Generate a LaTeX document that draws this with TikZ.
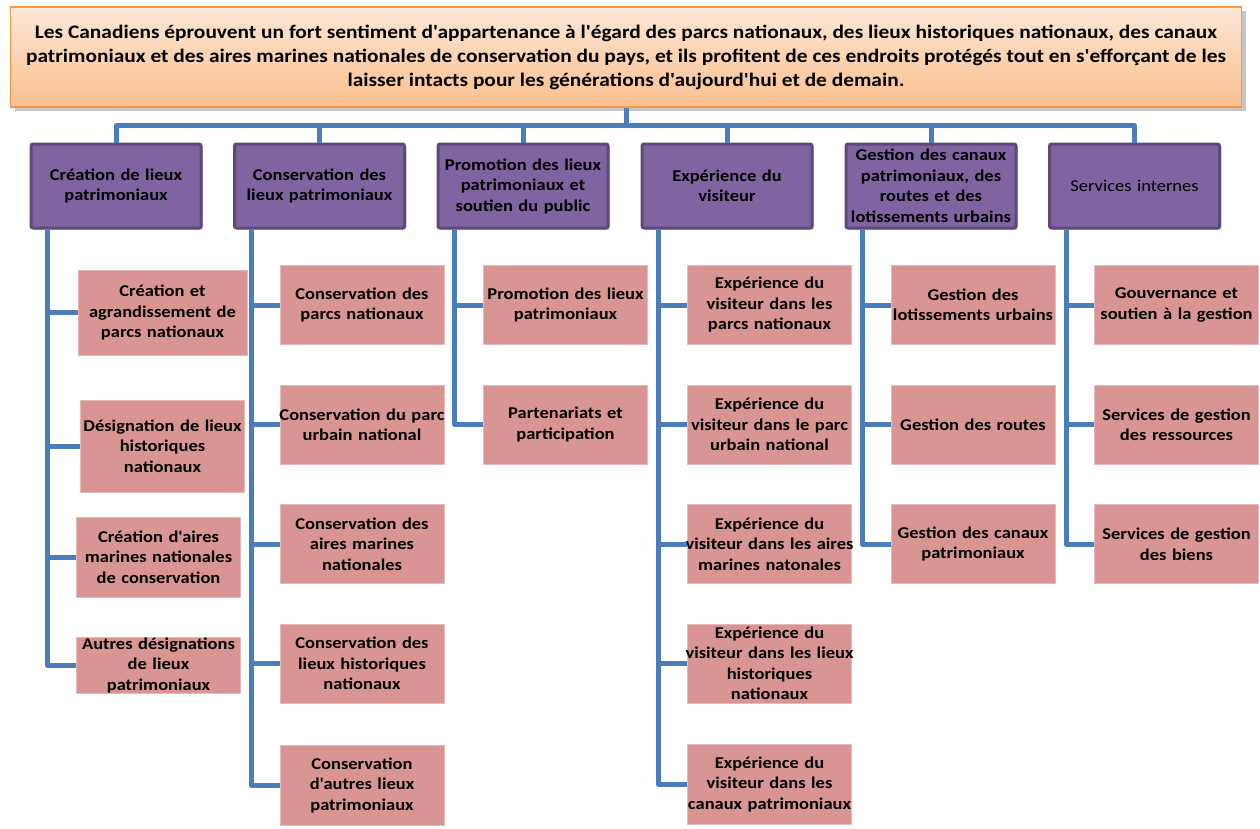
\documentclass[tikz,border=0pt]{standalone}
\usepackage{fontspec}
\setmainfont{Carlito}[Ligatures=TeXOff, FakeStretch=1.12]
\usetikzlibrary{shadows,calc}
\definecolor{orB}{HTML}{F79646}
\definecolor{orT}{HTML}{FDE7D6}
\definecolor{orBt}{HTML}{FABF8E}
\definecolor{purF}{HTML}{8064A2}
\definecolor{purD}{HTML}{5F497A}
\definecolor{pinkF}{HTML}{D99594}
\definecolor{pinkL}{HTML}{E6B9B8}
\definecolor{conB}{HTML}{4A7EBB}
\tikzset{
  topbox/.style={draw=orB, line width=1.5pt, top color=orT, bottom color=orBt,
    drop shadow={shadow xshift=4pt, shadow yshift=-4pt, opacity=0.45},
    minimum width=1231pt, minimum height=100pt, inner sep=0pt, align=center,
    font=\fontsize{19.1}{24}\selectfont\bfseries},
  lone/.style={fill=purF, draw=purD, line width=3pt, rounded corners=2pt,
    drop shadow={shadow xshift=2pt, shadow yshift=-2pt, opacity=0.35},
    minimum width=170pt, minimum height=84pt, inner sep=0pt, inner xsep=-4pt, align=center,
    text width=176pt, font=\fontsize{16.5}{20.5}\selectfont\bfseries},
  ltwo/.style={fill=pinkF, draw=pinkL, line width=0.8pt,
    minimum width=164pt, minimum height=79pt, inner sep=0pt, inner xsep=-6pt, align=center,
    text width=176pt, font=\fontsize{16.5}{20.5}\selectfont\bfseries},
  conn/.style={draw=conB, line width=5pt, line join=round}
}
\begin{document}
\begin{tikzpicture}[x=1pt,y=-1pt]
\useasboundingbox (0,0) rectangle (1260,828);
\fill[white] (0,0) rectangle (1260,828);
% top
\node[topbox] (top) at (626,57) {Les Canadiens éprouvent un fort sentiment d'appartenance à l'égard des parcs nationaux, des lieux historiques nationaux, des canaux\\ patrimoniaux et des aires marines nationales de conservation du pays, et ils profitent de ces endroits protégés tout en s'efforçant de les\\ laisser intacts pour les générations d'aujourd'hui et de demain.};
% level 1
\node[lone] (c1) at (116,186) {Création de lieux\\ patrimoniaux};
\node[lone] (c2) at (319.5,186) {Conservation des\\ lieux patrimoniaux};
\node[lone] (c3) at (523,186) {Promotion des lieux\\ patrimoniaux et\\ soutien du public};
\node[lone] (c4) at (727,186) {Expérience du\\ visiteur};
\node[lone] (c5) at (931,186) {Gestion des canaux\\ patrimoniaux, des\\ routes et des\\ lotissements urbains};
\node[lone, font=\fontsize{16.5}{20.5}\selectfont] (c6) at (1134.5,186) {Services internes};
% connectors top to level 1
\foreach \c in {c1,c2,c3,c4,c5,c6}{
  \draw[conn] (top.south) -- ++(0,18) -| (\c.north);
}
% column 1
\node[ltwo, minimum width=169pt, minimum height=85pt] (a1) at (162.5,312.5) {Création et\\ agrandissement de\\ parcs nationaux};
\node[ltwo, minimum width=163pt, minimum height=92pt] (a2) at (162.5,446) {Désignation de lieux\\ historiques\\ nationaux};
\node[ltwo, minimum width=163pt, minimum height=80pt] (a3) at (158.5,557) {Création d'aires\\ marines nationales\\ de conservation};
\node[ltwo, minimum width=163pt, minimum height=56pt] (a4) at (158.5,665) {Autres désignations\\ de lieux\\ patrimoniaux};
% column 2
\node[ltwo] (b1) at (362,305) {Conservation des\\ parcs nationaux};
\node[ltwo] (b2) at (362,424.5) {Conservation du parc\\ urbain national};
\node[ltwo] (b3) at (362,544) {Conservation des\\ aires marines\\ nationales};
\node[ltwo] (b4) at (362,663.5) {Conservation des\\ lieux historiques\\ nationaux};
\node[ltwo, minimum height=80pt] (b5) at (362,785) {Conservation\\ d'autres lieux\\ patrimoniaux};
% column 3
\node[ltwo] (p1) at (565.5,305) {Promotion des lieux\\ patrimoniaux};
\node[ltwo] (p2) at (565.5,424.5) {Partenariats et\\ participation};
% column 4
\node[ltwo] (e1) at (769.5,305) {Expérience du\\ visiteur dans les\\ parcs nationaux};
\node[ltwo] (e2) at (769.5,424.5) {Expérience du\\ visiteur dans le parc\\ urbain national};
\node[ltwo] (e3) at (769.5,544) {Expérience du\\ visiteur dans les aires\\ marines natonales};
\node[ltwo] (e4) at (769.5,663.5) {Expérience du\\ visiteur dans les lieux\\ historiques\\ nationaux};
\node[ltwo, minimum height=80pt] (e5) at (769.5,784) {Expérience du\\ visiteur dans les\\ canaux patrimoniaux};
% column 5
\node[ltwo] (g1) at (973,305) {Gestion des\\ lotissements urbains};
\node[ltwo] (g2) at (973,424.5) {Gestion des routes};
\node[ltwo] (g3) at (973,544) {Gestion des canaux\\ patrimoniaux};
% column 6
\node[ltwo] (s1) at (1176.5,305) {Gouvernance et\\ soutien à la gestion};
\node[ltwo] (s2) at (1176.5,424.5) {Services de gestion\\ des ressources};
\node[ltwo] (s3) at (1176.5,544) {Services de gestion\\ des biens};
% connectors level 1 to level 2
\foreach \p/\kids in {c1/{a1,a2,a3,a4}, c2/{b1,b2,b3,b4,b5}, c3/{p1,p2}, c4/{e1,e2,e3,e4,e5}, c5/{g1,g2,g3}, c6/{s1,s2,s3}}{
  \foreach \k in \kids {
    \draw[conn] ([xshift=18pt]\p.south west) |- (\k.west);
  }
}
\end{tikzpicture}
\end{document}
